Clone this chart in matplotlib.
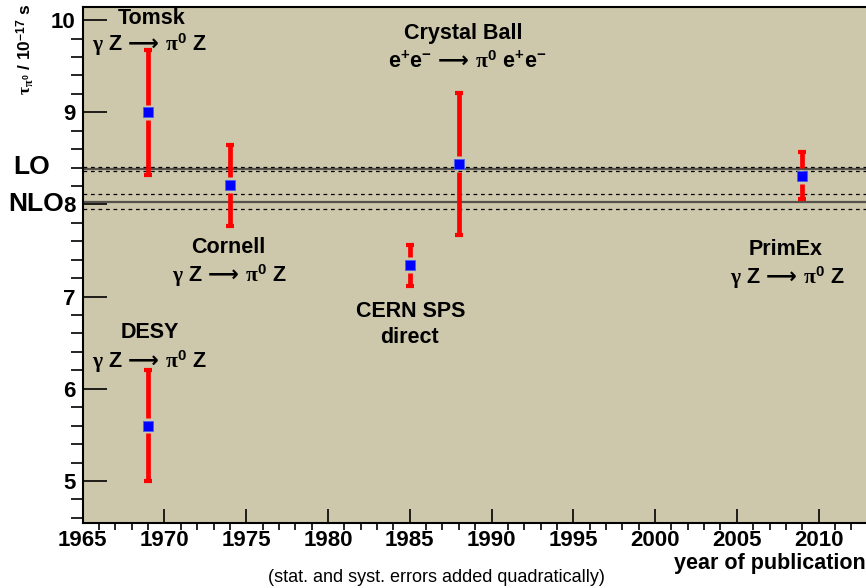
import matplotlib.pyplot as plt
from matplotlib.transforms import blended_transform_factory

# pi0 lifetime measurements (units of 1e-17 s)
labels = ['Tomsk', 'DESY', 'Cornell', 'CERN SPS', 'Crystal Ball', 'PrimEx']
years = [1969, 1969, 1974, 1985, 1988, 2009]
tau = [9.00, 5.60, 8.21, 7.34, 8.44, 8.31]
tau_err = [0.68, 0.60, 0.44, 0.22, 0.775, 0.255]

# theory bands: central value and half width
lo_val, lo_err = 8.385, 0.025
nlo_val, nlo_err = 8.03, 0.083

bg = '#cdc7ab'
plt.rcParams['font.family'] = ['Liberation Sans', 'DejaVu Sans']
plt.rcParams['font.weight'] = 'bold'
plt.rcParams['mathtext.fontset'] = 'custom'
plt.rcParams['mathtext.rm'] = 'Liberation Sans:bold'
plt.rcParams['mathtext.it'] = 'Liberation Serif'
plt.rcParams['mathtext.bf'] = 'Liberation Sans:bold'
plt.rcParams['mathtext.sf'] = 'DejaVu Sans'

fig = plt.figure(figsize=(8.66, 5.88), dpi=100)
ax = fig.add_axes([0.0955, 0.110, 0.9045, 0.8776])
ax.set_facecolor(bg)

# LO / NLO lines with dashed uncertainty
for val, err in [(lo_val, lo_err), (nlo_val, nlo_err)]:
    ax.axhline(val, color='#55524a', lw=1.6, zorder=1)
    ax.axhline(val + err, color='black', lw=0.9, ls=(0, (3, 3)), zorder=1)
    ax.axhline(val - err, color='black', lw=0.9, ls=(0, (3, 3)), zorder=1)

# error bars drawn in two pieces, leaving a gap around the marker
gap = 0.085
lo_end = [t - e for t, e in zip(tau, tau_err)]
hi_end = [t + e for t, e in zip(tau, tau_err)]
ax.vlines(years, lo_end, [t - gap for t in tau], color='red', lw=3.4, zorder=3)
ax.vlines(years, [t + gap for t in tau], hi_end, color='red', lw=3.4, zorder=3)
ax.plot(years, lo_end, '_', color='red', ms=5.6, mew=3.0, zorder=3)
ax.plot(years, hi_end, '_', color='red', ms=5.6, mew=3.0, zorder=3)
ax.plot(years, tau, 's', color='#0000ff', ms=7.0, mew=0.6, mec='#4a5cf0', zorder=4)

ax.set_xlim(1965, 2012.9)
ax.set_ylim(4.54, 10.14)
ax.set_xticks(range(1965, 2011, 5))
ax.set_xticks(range(1965, 2013), minor=True)
ax.set_yticks([5, 6, 7, 8, 9, 10])
ax.set_yticks([4.6 + 0.2 * i for i in range(28)], minor=True)
ax.tick_params(direction='in', labelsize=16, width=1.2, colors='black')
ax.tick_params(axis='y', which='major', length=17, pad=5)
ax.tick_params(axis='y', which='minor', length=8.5, width=1.2)
ax.tick_params(axis='x', which='major', length=10, pad=5)
ax.tick_params(axis='x', which='minor', length=5, width=1.2)
for lab in ax.get_xticklabels() + ax.get_yticklabels():
    lab.set_fontweight('bold')
for side in ['left', 'bottom', 'top']:
    ax.spines[side].set_linewidth(1.5)
ax.spines['right'].set_visible(False)

reac = r'$\gamma\ \mathrm{Z}\,\mathsf{\longrightarrow}\,\pi^{0}\ \mathrm{Z}$'
ee = r'$\mathrm{e^{+}e^{-}}\,\mathsf{\longrightarrow}\,\pi^{0}\ \mathrm{e^{+}e^{-}}$'
fs = 15.5
ax.text(1969.2, 10.02, 'Tomsk', ha='center', va='center', fontsize=fs)
ax.text(1969.1, 9.73, reac, ha='center', va='center', fontsize=fs)
ax.text(1973.9, 7.53, 'Cornell', ha='center', va='center', fontsize=fs)
ax.text(1974.0, 7.23, reac, ha='center', va='center', fontsize=fs)
ax.text(1969.1, 6.61, 'DESY', ha='center', va='center', fontsize=fs)
ax.text(1969.1, 6.29, reac, ha='center', va='center', fontsize=fs)
ax.text(1985.05, 6.84, 'CERN SPS', ha='center', va='center', fontsize=fs)
ax.text(1984.95, 6.56, 'direct', ha='center', va='center', fontsize=fs)
ax.text(1988.3, 9.86, 'Crystal Ball', ha='center', va='center', fontsize=fs)
ax.text(1988.5, 9.54, ee, ha='center', va='center', fontsize=fs)
ax.text(2008.0, 7.51, 'PrimEx', ha='center', va='center', fontsize=fs)
ax.text(2008.1, 7.21, reac, ha='center', va='center', fontsize=fs)

# LO / NLO tags left of the axis
tr = blended_transform_factory(fig.transFigure, ax.transData)
ax.text(32 / 866, lo_val + 0.02, 'LO', transform=tr, ha='center', va='center',
        fontsize=19, clip_on=False)
ax.text(36 / 866, nlo_val - 0.02, 'NLO', transform=tr, ha='center', va='center',
        fontsize=19, clip_on=False)

fig.text(25 / 866, 1 - 4 / 588, r'$\tau_{\pi^{0}}$ / 10$^{-17}$ s', rotation=90,
         ha='center', va='top', fontsize=12.5)
fig.text(1.0, 1 - 563 / 588, 'year of publication', ha='right', va='center',
         fontsize=15.5)
fig.text(436 / 866, 1 - 578 / 588, '(stat. and syst. errors added quadratically)',
         ha='center', va='center', fontsize=13, fontweight='normal')

fig.savefig('out.png', dpi=100)
